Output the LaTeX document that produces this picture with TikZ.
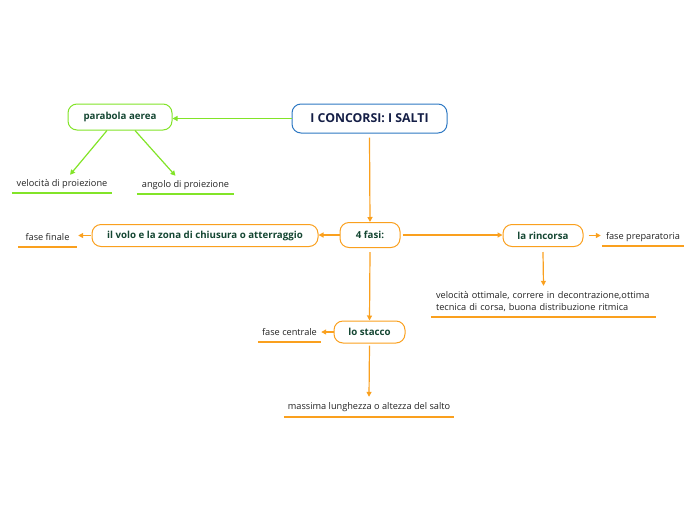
\documentclass[tikz,border=0pt]{standalone}
\usepackage{fontspec}
\setmainfont{Open Sans}
\usetikzlibrary{arrows.meta}
\definecolor{org}{RGB}{250,160,30}
\definecolor{grn}{RGB}{130,228,40}
\definecolor{blu}{RGB}{45,120,195}
\definecolor{dgreen}{RGB}{20,70,50}
\definecolor{navy}{RGB}{20,30,70}
\definecolor{txt}{RGB}{35,35,35}
\tikzset{
  box/.style={draw, rounded corners=9pt, line width=1pt, fill=white, inner sep=0pt, font=\bfseries\fontsize{9.7}{11}\selectfont, text=dgreen},
  ul/.style={inner sep=0pt, font=\fontsize{9.2}{12}\selectfont, text=txt},
  conn/.style={line width=1.2pt, -{Triangle[length=5pt,width=5pt]}},
  uline/.style={line width=2pt}
}
\begin{document}
\begin{tikzpicture}[x=1pt,y=-1pt]
\useasboundingbox (0,0) rectangle (696,520);
% nodes
\node[box, draw=blu, text=navy, minimum width=155, minimum height=29, font=\bfseries\fontsize{12.3}{14}\selectfont] (main) at (369.5,118.5) {I CONCORSI: I SALTI};
\node[box, draw=grn, minimum width=104, minimum height=26] (par) at (120,117) {parabola aerea};
\node[ul, minimum width=100, minimum height=18] (vel) at (62,184) {velocità di proiezione};
\node[ul, minimum width=97, minimum height=18] (ang) at (185.5,185) {angolo di proiezione};
\node[box, draw=org, minimum width=60, minimum height=25] (fasi) at (370,235) {4 fasi:};
\node[box, draw=org, minimum width=226, minimum height=22] (volo) at (205,235.5) {il volo e la zona di chiusura o atterraggio};
\node[ul, minimum width=59, minimum height=20] (fin) at (47.5,237) {fase finale};
\node[box, draw=org, minimum width=80, minimum height=22] (rinc) at (543,235.5) {la rincorsa};
\node[ul, minimum width=82, minimum height=18] (prep) at (643,237) {fase preparatoria};
\node[ul, text width=215, inner xsep=5, minimum height=31, align=left] (ott) at (543.5,301.5) {velocità ottimale, correre in decontrazione,ottima\\tecnica di corsa, buona distribuzione ritmica};
\node[box, draw=org, minimum width=71, minimum height=22] (stac) at (369.5,332) {lo stacco};
\node[ul, minimum width=63, minimum height=20] (cen) at (289.5,332) {fase centrale};
\node[ul, minimum width=170, minimum height=20] (mas) at (369,407) {massima lunghezza o altezza del salto};
% underlines
\foreach \n/\c in {vel/grn, ang/grn, fin/org, prep/org, ott/org, cen/org, mas/org}
  \draw[uline, draw=\c] (\n.south west) -- (\n.south east);
% connectors
\draw[conn, grn] (main.west) -- (par.east |- main.west);
\draw[conn, grn] ([xshift=-13]par.south) -- ([xshift=8]vel.north);
\draw[conn, grn] ([xshift=15]par.south) -- ([xshift=-10]ang.north);
\draw[conn, org] ([yshift=-4]main.south) -- (fasi.north);
\draw[conn, org] (fasi.west) -- (volo.east |- fasi.west);
\draw[conn, org] ([xshift=-1]volo.west) -- ([xshift=1]fin.east |- volo.west);
\draw[conn, org] ([xshift=2]fasi.east) -- (rinc.west |- fasi.east);
\draw[conn, org] ([xshift=5]rinc.east) -- ([xshift=-1]prep.west |- rinc.east);
\draw[conn, org] ([yshift=-5]rinc.south) -- (ott.north);
\draw[conn, org] ([yshift=-4]fasi.south) -- (stac.north);
\draw[conn, org] (stac.west) -- (cen.east);
\draw[conn, org] ([yshift=-2]stac.south) -- (mas.north);
\end{tikzpicture}
\end{document}
